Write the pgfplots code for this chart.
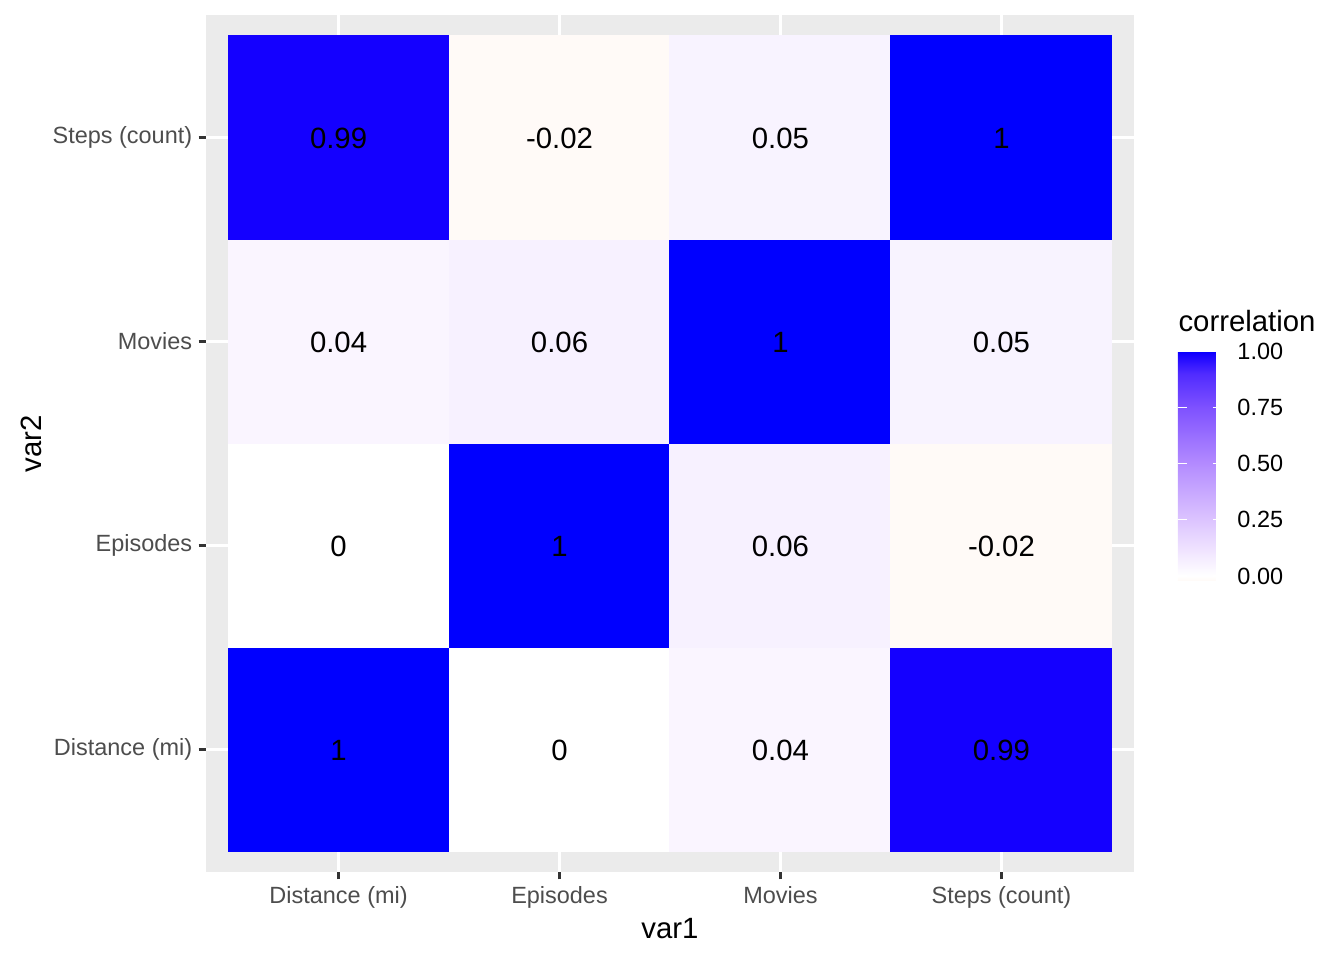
\documentclass[border=0pt]{standalone}
\usepackage{fontspec}
\setmainfont{Liberation Sans}
\usepackage{pgfplots}
\pgfplotsset{compat=1.18}
\definecolor{grey30}{HTML}{4D4D4D}
\definecolor{grey20}{HTML}{333333}
\definecolor{grey92}{HTML}{EBEBEB}
% white -> blue, Lab-like, with a hint of red below zero
\pgfplotsset{colormap={corr}{rgb255(0pt)=(255,250,247) rgb255(2pt)=(255,255,255)
  rgb255(12pt)=(242,231,255) rgb255(27pt)=(220,196,255) rgb255(52pt)=(179,139,255)
  rgb255(77pt)=(126,81,255) rgb255(92pt)=(80,43,255) rgb255(101pt)=(20,0,255)
  rgb255(102pt)=(0,0,255)}}
\begin{document}
\begin{tikzpicture}
\useasboundingbox (0,0) rectangle (504pt,360pt);
\begin{axis}[
  at={(77.25pt,33pt)}, anchor=south west,
  scale only axis, width=348pt, height=321.375pt,
  xmin=0.4, xmax=4.6, ymin=0.4, ymax=4.6,
  axis background/.style={fill=grey92},
  axis line style={draw=none},
  xtick={1,2,3,4}, ytick={1,2,3,4},
  xticklabels={Distance (mi),Episodes,Movies,Steps (count)},
  yticklabels={Distance (mi),Episodes,Movies,Steps (count)},
  tick pos=left, tick align=outside, major tick length=2.75pt,
  major tick style={grey20, line width=1.07pt},
  xmajorgrids, ymajorgrids, major grid style={white, line width=1.07pt},
  ticklabel style={font=\fontsize{8.8}{10}\selectfont, text=grey30},
  xticklabel style={yshift=0.75pt},
  yticklabel style={xshift=1.1pt},
  xlabel={var1}, ylabel={var2},
  label style={font=\fontsize{11}{13}\selectfont},
  xlabel style={at={(axis description cs:0.5,-0.0665)}, anchor=center},
  ylabel style={at={(axis description cs:-0.1886,0.5)}, anchor=center},
  colormap name=corr, point meta min=-0.02, point meta max=1,
  colorbar right,
  colorbar style={
    scale only axis, width=16.5pt, height=86.06pt,
    at={(parent axis.south east)}, anchor=south west,
    xshift=7.96pt, yshift=109.31pt,
    axis line style={draw=none},
    ytick={0,0.25,0.5,0.75,1},
    ytick pos=both, yticklabel pos=right,
    tick align=inside, major tick length=3.3pt,
    major tick style={white, line width=0.5pt},
    /pgf/number format/assume math mode=true,
    yticklabel style={/pgf/number format/fixed, /pgf/number format/fixed zerofill,
      /pgf/number format/precision=2, font=\fontsize{8.8}{10}\selectfont,
      text=black, inner sep=0pt, xshift=5.6pt},
    title={correlation},
    title style={at={(0,1)}, anchor=base west, yshift=1.15pt, inner sep=0pt,
      font=\fontsize{11}{13}\selectfont},
  },
]
\addplot[matrix plot*, mesh/cols=4, point meta=explicit, draw=none] table[meta=c] {
x y c
1 1 1
2 1 0
3 1 0.04
4 1 0.99
1 2 0
2 2 1
3 2 0.06
4 2 -0.02
1 3 0.04
2 3 0.06
3 3 1
4 3 0.05
1 4 0.99
2 4 -0.02
3 4 0.05
4 4 1
};
\addplot[draw=none, mark=none, nodes near coords, point meta=explicit symbolic,
  nodes near coords style={anchor=center, yshift=-0.3pt, font=\fontsize{11}{13}\selectfont, text=black}]
  table[meta=l] {
x y l
1 1 1
2 1 0
3 1 0.04
4 1 0.99
1 2 0
2 2 1
3 2 0.06
4 2 -0.02
1 3 0.04
2 3 0.06
3 3 1
4 3 0.05
1 4 0.99
2 4 -0.02
3 4 0.05
4 4 1
};
\end{axis}
\end{tikzpicture}
\end{document}
